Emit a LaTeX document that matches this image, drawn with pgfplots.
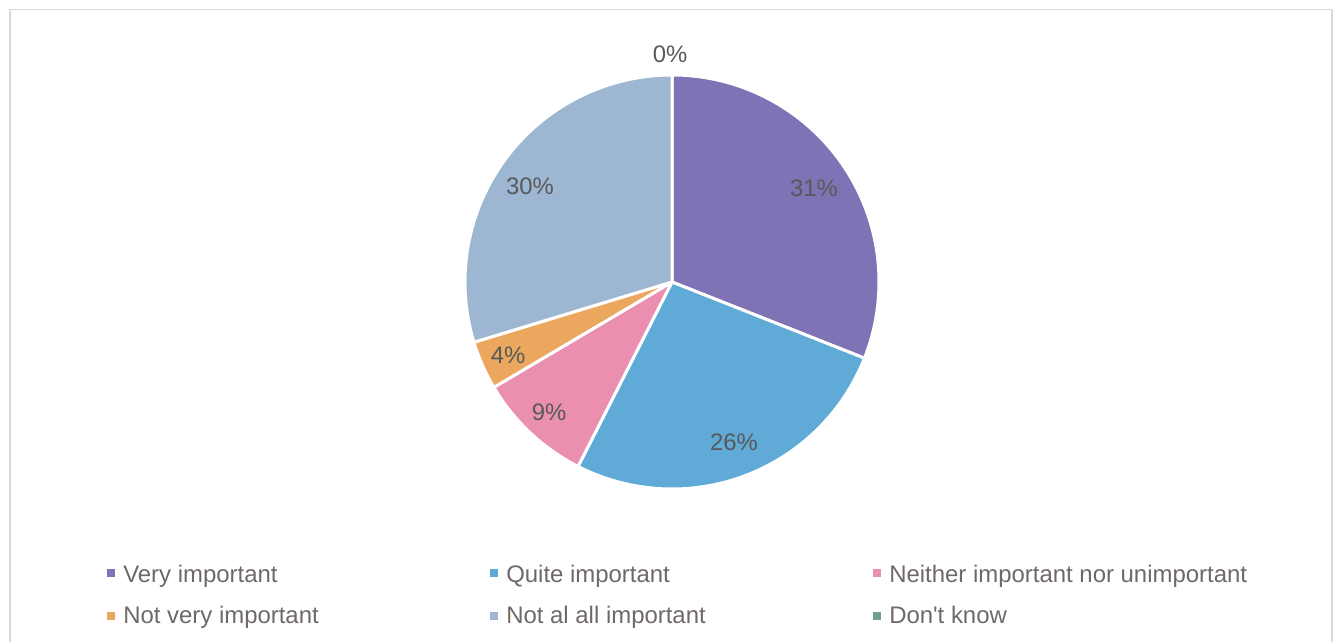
\documentclass[border=0pt]{standalone}
\usepackage{pgfplots}
\pgfplotsset{compat=1.18}
\usepackage{pgfplotstable}
\usepackage{fontspec}
\setmainfont{Liberation Sans}
\newfontfamily\plainfont{Liberation Sans}
\definecolor{c0}{HTML}{7F72B5}
\definecolor{c1}{HTML}{5FAAD7}
\definecolor{c2}{HTML}{EA8FB0}
\definecolor{c3}{HTML}{EBA75E}
\definecolor{c4}{HTML}{9DB7D3}
\definecolor{c5}{HTML}{6E9E8C}
\definecolor{lblc}{HTML}{595959}
\definecolor{legc}{HTML}{6F6869}
\definecolor{framec}{HTML}{D9D9D9}

\pgfplotstableread[col sep=comma]{
idx,value
0,31.0
1,26.5
2,9.0
3,3.8
4,29.7
5,0.0
}\piedata

\begin{document}
\begin{tikzpicture}
\useasboundingbox (0,0) rectangle (1003.5pt,481.5pt);
\xdef\acc{90}
\pgfplotsforeachungrouped \i in {0,...,5}{%
  \pgfplotstablegetelem{\i}{value}\of\piedata
  \pgfmathsetmacro\ea{\acc-3.6*\pgfplotsretval}%
  \expandafter\xdef\csname sa\i\endcsname{\acc}%
  \expandafter\xdef\csname ea\i\endcsname{\ea}%
  \xdef\acc{\ea}%
}
\begin{axis}[x=0.75pt,y=0.75pt,xmin=0,xmax=1338,ymin=0,ymax=642,
  hide axis,clip=false,anchor=south west,at={(0,0)}]
\draw[framec,line width=1.3pt] (axis cs:10,-10) -- (axis cs:10,632.5) -- (axis cs:1332,632.5) -- (axis cs:1332,-10);
\pgfplotsinvokeforeach{0,...,4}{
  \fill[c#1,draw=white,line width=2.25pt,line join=round]
    (axis cs:672,360) -- ++(\csname sa#1\endcsname:155.25pt)
    arc[start angle=\csname sa#1\endcsname,end angle=\csname ea#1\endcsname,radius=155.25pt] -- cycle;
}
\tikzset{lbl/.style={anchor=base,text=lblc,inner sep=0pt,font=\fontsize{17.9}{20}\selectfont},
         leg/.style={anchor=base west,text=legc,inner sep=0pt,font=\plainfont\fontsize{17.95}{20}\selectfont}}
\node[lbl] at (axis cs:670,579) {0\%};
\node[lbl] at (axis cs:814,445) {31\%};
\node[lbl] at (axis cs:734,191) {26\%};
\node[lbl] at (axis cs:549,221) {9\%};
\node[lbl] at (axis cs:508,278) {4\%};
\node[lbl] at (axis cs:530,447) {30\%};
% legend
\fill[c0] (axis cs:107,65) rectangle (axis cs:115,73);
\fill[c1] (axis cs:490,65) rectangle (axis cs:498,73);
\fill[c2] (axis cs:873,65) rectangle (axis cs:881,73);
\fill[c3] (axis cs:107,22) rectangle (axis cs:115,30);
\fill[c4] (axis cs:490,22) rectangle (axis cs:498,30);
\fill[c5] (axis cs:873,22) rectangle (axis cs:881,30);
\node[leg] at (axis cs:123,60) {Very important};
\node[leg] at (axis cs:506,60) {Quite important};
\node[leg] at (axis cs:889,60) {Neither important nor unimportant};
\node[leg] at (axis cs:123,19) {Not very important};
\node[leg] at (axis cs:506,19) {Not al all important};
\node[leg] at (axis cs:889,19) {Don't know};
\end{axis}
\end{tikzpicture}
\end{document}
